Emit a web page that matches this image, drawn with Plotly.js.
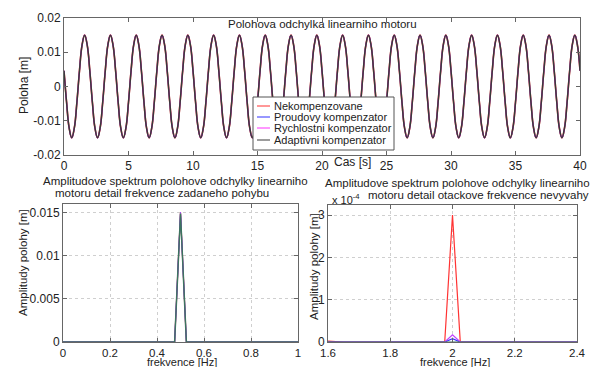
<!DOCTYPE html>
<html>
<head>
<meta charset="utf-8">
<script src="https://cdn.plot.ly/plotly-3.0.1.min.js"></script>
<style>html,body{margin:0;padding:0;background:#fff;}#chart{width:598px;height:367px;}</style>
</head>
<body>
<div id="chart"></div>
<script>
// ---- data ----
const seriesNames = ["Nekompenzovane", "Proudovy kompenzator", "Rychlostni kompenzator", "Adaptivni kompenzator"];
const timeStep = 0.2; // s
const polohaValues = [
  0.0046,-0.0046,-0.0121,-0.0150,-0.0121,-0.0046,0.0046,0.0121,0.0150,0.0121,
  0.0046,-0.0046,-0.0121,-0.0150,-0.0121,-0.0046,0.0046,0.0121,0.0150,0.0121,
  0.0046,-0.0046,-0.0121,-0.0150,-0.0121,-0.0046,0.0046,0.0121,0.0150,0.0121,
  0.0046,-0.0046,-0.0121,-0.0150,-0.0121,-0.0046,0.0046,0.0121,0.0150,0.0121,
  0.0046,-0.0046,-0.0121,-0.0150,-0.0121,-0.0046,0.0046,0.0121,0.0150,0.0121,
  0.0046,-0.0046,-0.0121,-0.0150,-0.0121,-0.0046,0.0046,0.0121,0.0150,0.0121,
  0.0046,-0.0046,-0.0121,-0.0150,-0.0121,-0.0046,0.0046,0.0121,0.0150,0.0121,
  0.0046,-0.0046,-0.0121,-0.0150,-0.0121,-0.0046,0.0046,0.0121,0.0150,0.0121,
  0.0046,-0.0046,-0.0121,-0.0150,-0.0121,-0.0046,0.0046,0.0121,0.0150,0.0121,
  0.0046,-0.0046,-0.0121,-0.0150,-0.0121,-0.0046,0.0046,0.0121,0.0150,0.0121,
  0.0046,-0.0046,-0.0121,-0.0150,-0.0121,-0.0046,0.0046,0.0121,0.0150,0.0121,
  0.0046,-0.0046,-0.0121,-0.0150,-0.0121,-0.0046,0.0046,0.0121,0.0150,0.0121,
  0.0046,-0.0046,-0.0121,-0.0150,-0.0121,-0.0046,0.0046,0.0121,0.0150,0.0121,
  0.0046,-0.0046,-0.0121,-0.0150,-0.0121,-0.0046,0.0046,0.0121,0.0150,0.0121,
  0.0046,-0.0046,-0.0121,-0.0150,-0.0121,-0.0046,0.0046,0.0121,0.0150,0.0121,
  0.0046,-0.0046,-0.0121,-0.0150,-0.0121,-0.0046,0.0046,0.0121,0.0150,0.0121,
  0.0046,-0.0046,-0.0121,-0.0150,-0.0121,-0.0046,0.0046,0.0121,0.0150,0.0121,
  0.0046,-0.0046,-0.0121,-0.0150,-0.0121,-0.0046,0.0046,0.0121,0.0150,0.0121,
  0.0046,-0.0046,-0.0121,-0.0150,-0.0121,-0.0046,0.0046,0.0121,0.0150,0.0121,
  0.0046,-0.0046,-0.0121,-0.0150,-0.0121,-0.0046,0.0046,0.0121,0.0150,0.0121,
  0.0046
];
// spectrum near the commanded-motion frequency
const freqLeft = [0, 0.475, 0.5, 0.525, 1];
const specLeftNekomp = [0, 0, 0.0150, 0, 0];
const specLeftProud = [0, 0, 0.0150, 0, 0];
const specLeftRychl = [0, 0, 0.0150, 0, 0];
const specLeftAdapt = [0, 0, 0.0149, 0, 0];
// spectrum near the unbalance frequency
const freqRight = [1.6, 1.65, 1.975, 2.0, 2.025, 2.4];
const specRightNekomp = [0.02e-4, 0, 0, 3.0e-4, 0, 0];
const specRightProud = [0, 0, 0, 0.08e-4, 0, 0];
const specRightRychl = [0, 0, 0, 0.17e-4, 0, 0];
const specRightAdapt = [0, 0, 0, 0.01e-4, 0, 0];
// tick labels
const topXTicks = [0,5,10,15,20,25,30,35,40];
const topYTicks = [-0.02,-0.01,0,0.01,0.02];
const topYLabels = ["-0.02","-0.01","0","0.01","0.02"];
const blXTicks = [0,0.2,0.4,0.6,0.8,1];
const blXLabels = ["0","0.2","0.4","0.6","0.8","1"];
const blYTicks = [0,0.005,0.01,0.015];
const blYLabels = ["0","0.005","0.01","0.015"];
const brXTicks = [1.6,1.8,2.0,2.2,2.4];
const brXLabels = ["1.6","1.8","2","2.2","2.4"];
const brYTicks = [0,1e-4,2e-4,3e-4];
const brYLabels = ["0","1","2","3"];

// ---- drawing ----
const W = 598, H = 367;
const colors = ["#ff3030", "#3030ff", "#ff30ff", "#3a3a3a"];
const specColors = ["#ff3333", "#3333ff", "#c040ff", "#3d7460"];
const timeX = polohaValues.map((v, i) => +(i * timeStep).toFixed(3));
const polohaSeries = [polohaValues, polohaValues, polohaValues, polohaValues];
const widths = [1.6, 0.8, 0.8, 1.5];
const specWidths = [1.2, 1, 1, 1.5];

const traces = [];
polohaSeries.forEach((ys, k) => {
  traces.push({x: timeX, y: ys, type: "scatter", mode: "lines", name: seriesNames[k], showlegend: false,
    line: {color: colors[k], width: widths[k], shape: "spline", smoothing: 1.2},
    xaxis: "x", yaxis: "y"});
});
[specLeftNekomp, specLeftProud, specLeftRychl, specLeftAdapt].forEach((ys, k) => {
  traces.push({x: freqLeft, y: ys, type: "scatter", mode: "lines", name: seriesNames[k], showlegend: false,
    line: {color: specColors[k], width: specWidths[k]}, xaxis: "x2", yaxis: "y2"});
});
[specRightNekomp, specRightProud, specRightRychl, specRightAdapt].forEach((ys, k) => {
  traces.push({x: freqRight, y: ys, type: "scatter", mode: "lines", name: seriesNames[k], showlegend: false,
    line: {color: specColors[k], width: 1.2}, xaxis: "x3", yaxis: "y3"});
});

const px = v => v / W;
const py = v => 1 - v / H;
const font = "Liberation Sans, Arial, sans-serif";
const baseAxis = {
  showline: true, mirror: "ticks", linecolor: "#666", linewidth: 1,
  ticks: "inside", ticklen: 4, tickcolor: "#666",
  tickfont: {family: font, size: 12, color: "#222"},
  zeroline: false, showgrid: false, fixedrange: true
};
const gridAxis = Object.assign({}, baseAxis, {showgrid: true, gridcolor: "#cfcfcf", griddash: "dot", gridwidth: 1});
const bottomX = {tickfont: {family: font, size: 11.5, color: "#222"}, ticklabelstandoff: 0};

function ann(text, x, y, opts) {
  return Object.assign({text: text, x: px(x), y: py(y), xref: "paper", yref: "paper",
    showarrow: false, xanchor: "center", yanchor: "middle",
    font: {family: font, size: 11.5, color: "#222"}}, opts || {});
}

// manual compact legend (MATLAB style box)
const legBox = {x0: 253, x1: 394, y0: 97, y1: 150};
const legRows = [106, 117, 128, 140];
const shapes = [{type: "rect", xref: "paper", yref: "paper",
  x0: px(legBox.x0), x1: px(legBox.x1), y0: py(legBox.y1), y1: py(legBox.y0),
  line: {color: "#555", width: 1}, fillcolor: "#fff", layer: "above"}];
const legendAnns = [];
seriesNames.forEach((nm, k) => {
  shapes.push({type: "line", xref: "paper", yref: "paper", x0: px(257), x1: px(270),
    y0: py(legRows[k]), y1: py(legRows[k]), line: {color: colors[k], width: 1}, layer: "above"});
  legendAnns.push(ann(nm, 272, legRows[k], {xanchor: "left", font: {family: font, size: 11, color: "#222"}}));
});

const layout = {
  width: W, height: H,
  margin: {l: 0, r: 0, t: 0, b: 0},
  paper_bgcolor: "#fff", plot_bgcolor: "#fff",
  showlegend: false,
  xaxis: Object.assign({}, baseAxis, {domain: [px(64), px(580)], range: [0, 40], tickvals: topXTicks, anchor: "y"}),
  yaxis: Object.assign({}, baseAxis, {domain: [py(155), py(18)], range: [-0.02, 0.02], tickvals: topYTicks, ticktext: topYLabels, anchor: "x"}),
  xaxis2: Object.assign({}, gridAxis, bottomX, {domain: [px(63), px(298)], range: [0, 1], tickvals: blXTicks, ticktext: blXLabels, anchor: "y2"}),
  yaxis2: Object.assign({}, gridAxis, {domain: [py(342), py(204)], range: [0, 0.016], tickvals: blYTicks, ticktext: blYLabels, anchor: "x2"}),
  xaxis3: Object.assign({}, gridAxis, bottomX, {domain: [px(328), px(577)], range: [1.6, 2.4], tickvals: brXTicks, ticktext: brXLabels, anchor: "y3"}),
  yaxis3: Object.assign({}, gridAxis, {domain: [py(342), py(205)], range: [0, 3.24e-4], tickvals: brYTicks, ticktext: brYLabels, anchor: "x3"}),
  shapes: shapes,
  annotations: [
    ann("Polohova odchylka linearniho motoru", 322, 24),
    ann("Cas [s]", 352, 162, {font: {family: font, size: 12, color: "#222"}}),
    ann("Poloha [m]", 24, 86, {textangle: -90, font: {family: font, size: 12, color: "#222"}}),
    ann("Amplitudove spektrum polohove odchylky linearniho", 175, 181),
    ann("motoru detail frekvence zadaneho pohybu", 162, 193),
    ann("Amplitudove spektrum polohove odchylky linearniho", 457, 183),
    ann("motoru detail otackove frekvence nevyvahy", 478, 195),
    ann("x 10<sup>-4</sup>", 346, 199, {font: {family: font, size: 11, color: "#222"}}),
    ann("Amplitudy polohy [m]", 23, 263, {textangle: -90}),
    ann("Amplitudy polohy [m]", 314, 267, {textangle: -90}),
    ann("frekvence [Hz]", 182, 362, {font: {family: font, size: 11, color: "#222"}}),
    ann("frekvence [Hz]", 455, 362, {font: {family: font, size: 11, color: "#222"}})
  ].concat(legendAnns)
};

Plotly.newPlot("chart", traces, layout, {displayModeBar: false, staticPlot: true});
</script>
</body>
</html>
